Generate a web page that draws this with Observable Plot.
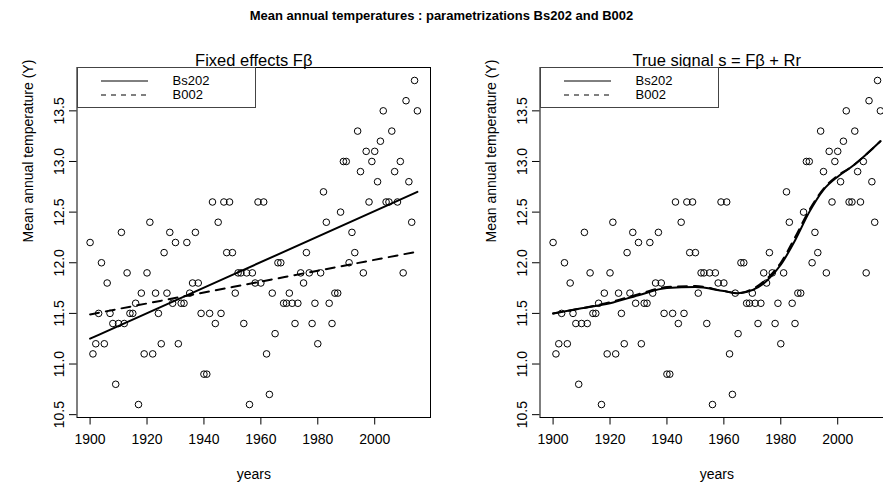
<!DOCTYPE html>
<html><head><meta charset="utf-8">
<script src="https://cdn.jsdelivr.net/npm/d3@7"></script>
<script src="https://cdn.jsdelivr.net/npm/@observablehq/plot@0.6"></script>
<style>
body{margin:0;background:#fff;font-family:Arial,"Liberation Sans",sans-serif;overflow:hidden;}
#wrap{position:relative;width:883px;height:493px;overflow:hidden;background:#fff;}
#title{position:absolute;top:8px;left:0;width:883px;text-align:center;font-weight:bold;font-size:13px;color:#000;z-index:5;}
.panel{position:absolute;top:0;width:441px;height:493px;z-index:1;}
.panel svg{max-width:none !important;width:441px;height:493px;}
.legend{position:absolute;top:67px;width:179px;height:41px;border:1px solid #444;box-sizing:border-box;background:#fff;font-size:13px;z-index:4;}
.legend div{position:absolute;left:95px;line-height:13px;}
.legend svg{position:absolute;left:0;top:0;}
</style></head><body>
<div id="wrap">
<div id="title">Mean annual temperatures : parametrizations Bs202 and B002</div>
<div id="p1" class="panel" style="left:0"></div>
<div id="p2" class="panel" style="left:463px"></div>
</div>
<script>
// observed data
const years = [1900,1901,1902,1903,1904,1905,1906,1907,1908,1909,1910,1911,1912,1913,1914,1915,1916,1917,1918,1919,
1920,1921,1922,1923,1924,1925,1926,1927,1928,1929,1930,1931,1932,1933,1934,1935,1936,1937,1938,1939,
1940,1941,1942,1943,1944,1945,1946,1947,1948,1949,1950,1951,1952,1953,1954,1955,1956,1957,1958,1959,
1960,1961,1962,1963,1964,1965,1966,1967,1968,1969,1970,1971,1972,1973,1974,1975,1976,1977,1978,1979,
1980,1981,1982,1983,1984,1985,1986,1987,1988,1989,1990,1991,1992,1993,1994,1995,1996,1997,1998,1999,
2000,2001,2002,2003,2004,2005,2006,2007,2008,2009,2010,2011,2012,2013,2014,2015];
const temps = [12.2,11.1,11.2,11.5,12.0,11.2,11.8,11.5,11.4,10.8,11.4,12.3,11.4,11.9,11.5,11.5,11.6,10.6,11.7,11.1,
11.9,12.4,11.1,11.7,11.5,11.2,12.1,11.7,12.3,11.6,12.2,11.2,11.6,11.6,12.2,11.7,11.8,12.3,11.8,11.5,
10.9,10.9,11.5,12.6,11.4,12.4,11.5,12.6,12.1,12.6,12.1,11.7,11.9,11.9,11.4,11.9,10.6,11.9,11.8,12.6,
11.8,12.6,11.1,10.7,11.7,11.3,12.0,12.0,11.6,11.6,11.7,11.6,11.4,11.6,11.9,11.8,12.1,11.9,11.4,11.6,
11.2,11.9,12.7,12.4,11.6,11.4,11.7,11.7,12.5,13.0,13.0,12.0,12.3,12.1,13.3,12.9,11.9,13.1,12.6,13.0,
13.1,12.8,13.2,13.5,12.6,12.6,13.3,12.9,12.6,13.0,11.9,13.6,12.8,12.4,13.8,13.5];

// fitted fixed effects (left panel)
const fixedYears = [1900, 1950, 2015];
const fixedBs202 = [11.25, 11.88, 12.70];
const fixedB002 = [11.49, 11.76, 12.11];

// true signal (right panel)
const signalYears = [1900,1910,1920,1930,1940,1950,1960,1965,1970,1975,1980,1985,1990,1995,2000,2005,2010,2015];
const signalBs202 = [11.50,11.55,11.60,11.68,11.75,11.76,11.72,11.70,11.73,11.82,11.98,12.22,12.50,12.72,12.85,12.95,13.07,13.20];
const signalB002  = [11.50,11.55,11.61,11.69,11.76,11.77,11.72,11.70,11.74,11.84,12.00,12.25,12.52,12.73,12.86,12.95,13.07,13.20];

const xTicks = [1900,1920,1940,1960,1980,2000];
const yTicks = [10.5,11.0,11.5,12.0,12.5,13.0,13.5];
const legendLabels = ["Bs202", "B002"];
const panelTitles = ["Fixed effects F\u03B2", "True signal s = F\u03B2 + Rr"];
const xTitle = "years";
const yTitle = "Mean annual temperature (Y)";

const obs = years.map((y, i) => ({year: y, temp: temps[i]}));
function series(xs, ys) { return xs.map((x, i) => ({year: x, value: ys[i]})); }

function panel(title, solid, dashed) {
  return Plot.plot({
    width: 441, height: 493,
    marginLeft: 76.5, marginRight: 11, marginTop: 67, marginBottom: 76,
    x: {domain: [1895.4, 2019.6]},
    y: {domain: [10.472, 13.928]},
    style: {fontFamily: "Arial, 'Liberation Sans', sans-serif", fontSize: "14px", color: "#000", background: "transparent", overflow: "visible"},
    marks: [
      Plot.axisX({ticks: xTicks, tickSize: 7.5, tickPadding: 9, tickFormat: d => String(d), label: null, stroke: "#000"}),
      Plot.axisY({ticks: yTicks, tickSize: 7.5, tickPadding: 6, tickRotate: -90, tickFormat: d => d.toFixed(1), label: null, stroke: "#000"}),
      Plot.text([xTitle], {frameAnchor: "bottom", dy: 61, fontSize: 14}),
      Plot.text([yTitle], {frameAnchor: "left", dx: -48, rotate: -90, fontSize: 14}),
      Plot.text([title], {frameAnchor: "top", dy: -13, fontSize: 16.5}),
      Plot.dot(obs, {x: "year", y: "temp", r: 3.3, stroke: "#000", strokeWidth: 1, fill: "none"}),
      Plot.line(solid, {x: "year", y: "value", stroke: "#000", strokeWidth: 2, curve: "monotone-x"}),
      Plot.line(dashed, {x: "year", y: "value", stroke: "#000", strokeWidth: 2, strokeDasharray: "9,7", curve: "monotone-x"}),
      Plot.frame({stroke: "#000", strokeWidth: 1})
    ]
  });
}

document.getElementById("p1").appendChild(panel(panelTitles[0], series(fixedYears, fixedBs202), series(fixedYears, fixedB002)));
document.getElementById("p2").appendChild(panel(panelTitles[1], series(signalYears, signalBs202), series(signalYears, signalB002)));

function legend(parent, left) {
  const d = document.createElement("div");
  d.className = "legend";
  d.style.left = left + "px";
  d.innerHTML = `<svg width="179" height="41"><line x1="23" x2="70" y1="13" y2="13" stroke="#000" stroke-width="1"/><line x1="23" x2="70" y1="27" y2="27" stroke="#000" stroke-width="1" stroke-dasharray="5,5"/></svg>` +
    `<div style="top:6px">${legendLabels[0]}</div><div style="top:20px">${legendLabels[1]}</div>`;
  parent.appendChild(d);
}
legend(document.getElementById("wrap"), 76.5);
legend(document.getElementById("wrap"), 463 + 76.5);
</script>
</body></html>
